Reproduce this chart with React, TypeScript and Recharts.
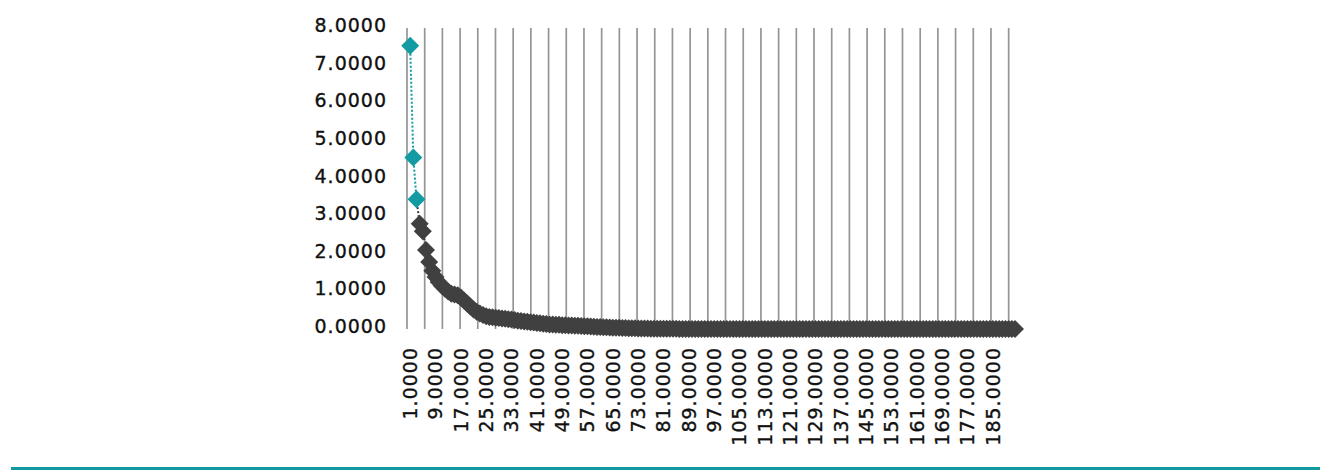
import React from 'react';
import { LineChart, Line, XAxis, YAxis, CartesianGrid } from 'recharts';

// first three points are highlighted in teal, the rest are dark grey
const highlightValues = [7.53, 4.56, 3.45];

const tailValues = [
  2.8, 2.6, 2.1, 1.78, 1.55, 1.38, 1.25, 1.15, 1.07, 1.0,
  0.94, 0.92, 0.9, 0.84, 0.76, 0.68, 0.6, 0.52, 0.46, 0.41,
  0.37, 0.34, 0.32, 0.31, 0.3, 0.29, 0.28, 0.27, 0.26, 0.25,
  0.24, 0.22, 0.21, 0.2, 0.19, 0.18, 0.17, 0.16, 0.15, 0.14,
  0.13, 0.12, 0.12, 0.11, 0.11, 0.1, 0.1, 0.095, 0.09, 0.088,
  0.085, 0.08, 0.075, 0.07, 0.065, 0.06, 0.055, 0.05, 0.048, 0.045,
  0.04, 0.036, 0.032, 0.03, 0.027, 0.024, 0.021, 0.019, 0.017, 0.015,
  0.013, 0.011, 0.01, 0.009, 0.008, 0.007, 0.006, 0.005, 0.005, 0.004,
  0.004, 0.004, 0.003, 0.003, 0.003, 0.003, 0.002, 0.002, 0.002, 0.002,
  0.002, 0.002, 0.002, 0.002, 0.002, 0.002, 0.002, 0.002, 0.002, 0.002,
  0.001, 0.001, 0.001, 0.001, 0.001, 0.001, 0.001, 0.001, 0.001, 0.001,
  0.001, 0.001, 0.001, 0.001, 0.001, 0.001, 0.001, 0.001, 0.001, 0.001,
  0.001, 0.001, 0.001, 0.001, 0.001, 0.001, 0.001, 0.001, 0.001, 0.001,
  0.001, 0.001, 0.001, 0.001, 0.001, 0.001, 0.001, 0.001, 0.001, 0.001,
  0, 0, 0, 0, 0, 0, 0, 0, 0, 0,
  0, 0, 0, 0, 0, 0, 0, 0, 0, 0,
  0, 0, 0, 0, 0, 0, 0, 0, 0, 0,
  0, 0, 0, 0, 0, 0, 0, 0, 0, 0,
  0, 0, 0, 0, 0, 0, 0, 0, 0,
];

const xTicks = [1, 9, 17, 25, 33, 41, 49, 57, 65, 73, 81, 89, 97, 105, 113, 121, 129, 137, 145, 153, 161, 169, 177, 185];
const yTicks = [0, 1, 2, 3, 4, 5, 6, 7, 8];

const TEAL = '#139BA3';
const DARK = '#404040';
const X_MAX = 192;
const categoryCount = highlightValues.length + tailValues.length;

const data = Array.from({ length: categoryCount }, (_, i) => {
  const cat = i + 1;
  return {
    cat,
    teal: i < highlightValues.length ? highlightValues[i] : null,
    // dark series starts on the last teal point so the segment 3 -> 4 is drawn
    dark:
      i === highlightValues.length - 1
        ? highlightValues[i]
        : i >= highlightValues.length
        ? tailValues[i - highlightValues.length]
        : null,
  };
});

// vertical gridlines are spaced independently from the labels (in category units)
const gridTicks = Array.from({ length: 35 }, (_, k) => (k * 190) / 34);

const gridX = ({ offset }: any) =>
  gridTicks.map((t) => offset.left + (t / X_MAX) * offset.width);

const diamond = (color: string, skipIndex?: number) => (props: any) => {
  const { cx, cy, index } = props;
  if (cx == null || cy == null || index === skipIndex) return <g key={`d-${index}`} />;
  const r = 9;
  return (
    <polygon
      key={`d-${index}`}
      points={`${cx},${cy - r} ${cx + r},${cy} ${cx},${cy + r} ${cx - r},${cy}`}
      fill={color}
    />
  );
};

const font = {
  fontFamily: 'DejaVu Sans',
  fontSize: 19,
  letterSpacing: 1,
  fill: '#111',
  stroke: '#111',
  strokeWidth: 0.35,
};

const YTick = (props: any) => {
  const { x, y, payload } = props;
  return (
    <text x={x} y={y} dy={4} textAnchor="end" {...font}>
      {Number(payload.value).toFixed(4)}
    </text>
  );
};

const XTick = (props: any) => {
  const { x, y, payload } = props;
  return (
    <text
      x={x}
      y={y}
      dy={6.9}
      textAnchor="end"
      transform={`rotate(-90, ${x}, ${y})`}
      {...font}
    >
      {Number(payload.value).toFixed(4)}
    </text>
  );
};

export default function App() {
  return (
    <div style={{ position: 'absolute', left: 0, top: 0, width: 1334, height: 472, background: '#fff' }}>
      <LineChart
        width={1334}
        height={472}
        data={data}
        margin={{ top: 28, right: 319, bottom: 13, left: 0 }}
      >
        <CartesianGrid
          horizontal={false}
          verticalCoordinatesGenerator={gridX}
          stroke="#959595"
          strokeWidth={1.7}
        />
        <XAxis
          dataKey="cat"
          type="number"
          domain={[0, X_MAX]}
          ticks={xTicks}
          interval={0}
          height={130}
          axisLine={false}
          tickLine={false}
          tickSize={0}
          tickMargin={18}
          tick={<XTick />}
        />
        <YAxis
          domain={[0, 8]}
          ticks={yTicks}
          width={407}
          axisLine={false}
          tickLine={false}
          tickSize={0}
          tickMargin={20}
          tick={<YTick />}
        />
        <Line
          dataKey="dark"
          stroke={DARK}
          strokeWidth={2}
          strokeDasharray="2 2"
          dot={diamond(DARK, highlightValues.length - 1)}
          isAnimationActive={false}
        />
        <Line
          dataKey="teal"
          stroke={TEAL}
          strokeWidth={2}
          strokeDasharray="2 2"
          dot={diamond(TEAL)}
          isAnimationActive={false}
        />
      </LineChart>
      <div style={{ position: 'absolute', left: 11, top: 467, width: 1309, height: 2.5, background: '#0F9AA0' }} />
    </div>
  );
}
